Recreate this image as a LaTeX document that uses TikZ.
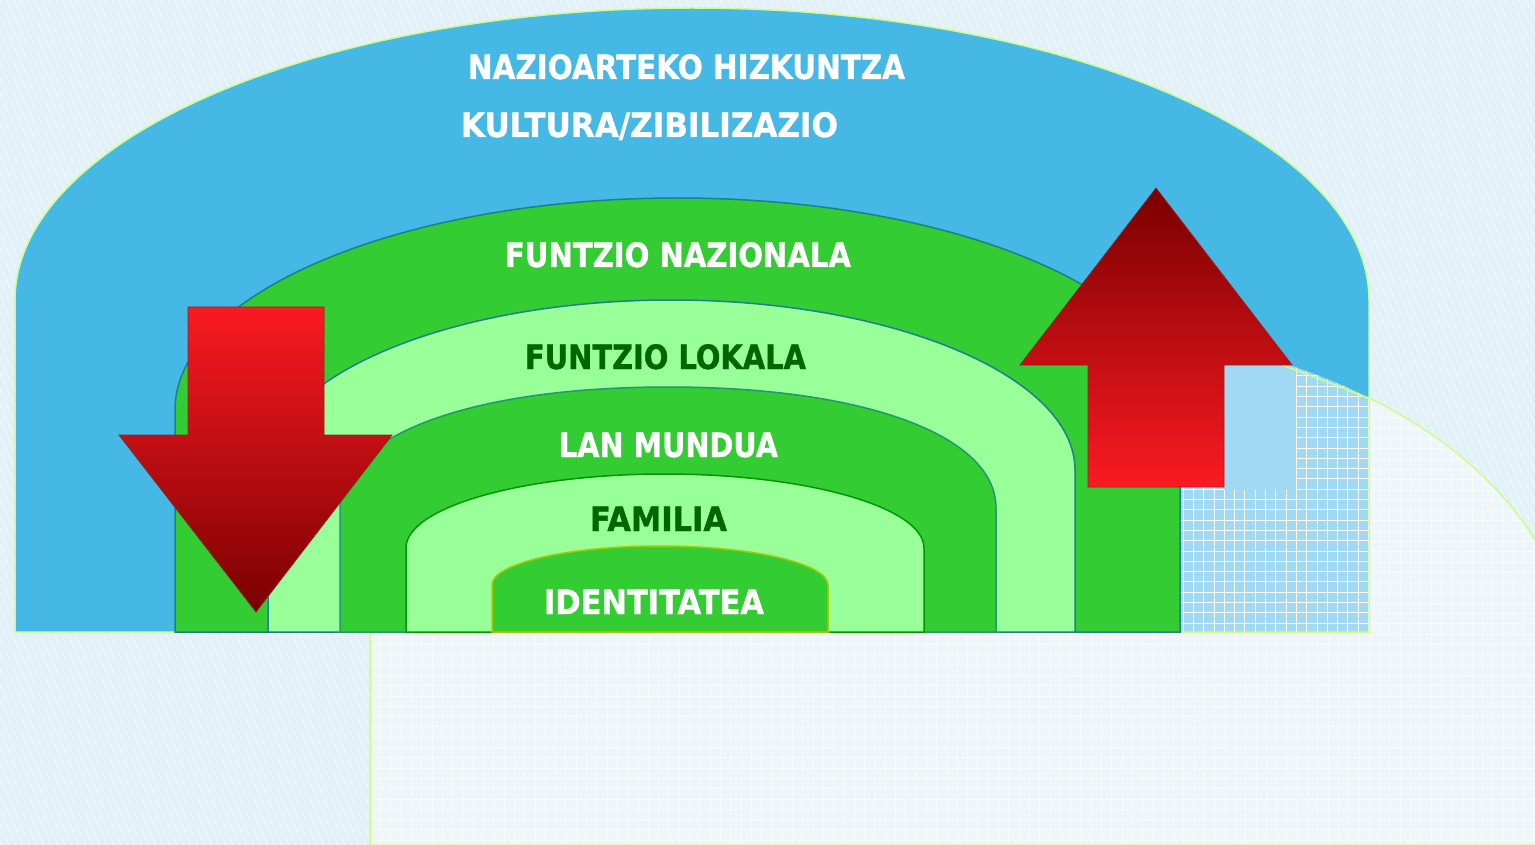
\documentclass[tikz,border=0pt]{standalone}
\usepackage{fontspec}
\setmainfont{DejaVu Sans}
\newfontfamily\lblfont{DejaVu Sans Bold}[FakeBold=1.1]
\usepackage{graphicx}
\definecolor{bgc}{HTML}{E2F1F8}
\definecolor{lightreg}{HTML}{F1F8FB}
\definecolor{archblue}{HTML}{45B8E6}
\definecolor{gridblue}{HTML}{A2D9F2}
\definecolor{dgreen}{HTML}{33CC33}
\definecolor{lgreen}{HTML}{99FF99}
\definecolor{txtgreen}{HTML}{006600}
\definecolor{edgeteal}{HTML}{1E7F8E}
\definecolor{edgelime}{HTML}{CCFF88}
\definecolor{edgeolive}{HTML}{A8C800}
\definecolor{edgegreen}{HTML}{009900}
\definecolor{redtop}{HTML}{FA1A22}
\definecolor{redmid}{HTML}{D80000}
\definecolor{reddark}{HTML}{7A0000}
% arch: L R B S T k options
\newcommand\archcmd[7]{\path[#7] (#1,#3) -- (#1,#4)
  .. controls (#1,{#4-#6*(#4-#5)}) and ({(#1+#2)/2-#6*(#2-#1)/2},#5) .. ({(#1+#2)/2},#5)
  .. controls ({(#1+#2)/2+#6*(#2-#1)/2},#5) and (#2,{#4-#6*(#4-#5)}) .. (#2,#4)
  -- (#2,#3) -- cycle;}
\newcommand\lightregion[1]{\path[#1] (370,845) -- (370,328) -- (1050,328)
  arc[start angle=-90, end angle=0, x radius=520, y radius=332] -- (1570,845) -- cycle;}
\tikzset{
  stripe/.style={white, opacity=0.35, line width=1.2pt},
  lbl/.style={anchor=base, inner sep=0pt, font=\fontsize{33.5}{38}\lblfont},
  redarrow/.style={draw=reddark!85, line width=0.8pt}
}
\begin{document}
\begin{tikzpicture}[x=1pt,y=-1pt]
\useasboundingbox (0,0) rectangle (1535,845);
\clip (0,0) rectangle (1535,845);
% background
\fill[bgc] (0,0) rectangle (1535,845);
\foreach \i in {-420,-413,...,1535}{\draw[stripe] (\i,0) -- ++(380,845);}
% light region
\lightregion{fill=lightreg, fill opacity=0.8}
\begin{scope}
  \lightregion{clip}
  \foreach \gx in {370,380.3,...,1540}{\draw[white, opacity=0.6, line width=0.6pt] (\gx,300) -- (\gx,850);}
  \foreach \gy in {325,335.3,...,850}{\draw[white, opacity=0.6, line width=0.6pt] (360,\gy) -- (1540,\gy);}
\end{scope}
\lightregion{draw=edgelime, line width=1.5pt}
% blue arch
\archcmd{15}{1369}{632}{300}{8}{0.55}{fill=archblue}
\begin{scope}
  \lightregion{clip}
  \archcmd{15}{1369}{632}{300}{8}{0.55}{clip}
  \fill[gridblue] (1100,300) rectangle (1400,640);
  \foreach \gx in {1183,1193.3,...,1370}{\draw[white, line width=0.8pt] (\gx,300) -- (\gx,640);}
  \foreach \gy in {314,324.3,...,640}{\draw[white, line width=0.8pt] (1100,\gy) -- (1400,\gy);}
  \fill[gridblue] (1224,360) rectangle (1296,490);
\end{scope}
\begin{scope}
  \archcmd{15}{1369}{632}{300}{8}{0.55}{clip}
  \path[draw=edgelime, line width=1.5pt] (1250,352) -- (1290,368)
    .. controls (1320,379) and (1345,389) .. (1370,399);
\end{scope}
\archcmd{15}{1369}{632}{300}{8}{0.55}{draw=edgelime, line width=1.5pt}
% green arches
\archcmd{175}{1180}{632}{410}{198}{0.55}{fill=dgreen, draw=edgeteal, line width=1.5pt}
\archcmd{268}{1075}{632}{470}{300}{0.55}{fill=lgreen, draw=edgeteal, line width=1.5pt}
\archcmd{340}{996}{632}{508}{387}{0.6}{fill=dgreen, draw=edgeteal!70!dgreen, line width=1.5pt}
\archcmd{406}{924}{632}{548}{474}{0.55}{fill=lgreen, draw=edgegreen, line width=1.5pt}
\archcmd{492}{828}{632}{585}{546}{0.55}{fill=dgreen, draw=edgeolive, line width=1.5pt}
% arrows
\path[redarrow, top color=redtop, middle color=redmid, bottom color=reddark]
  (188,307) -- (324,307) -- (324,435) -- (392,435) -- (256,612) -- (119,435) -- (188,435) -- cycle;
\path[redarrow, top color=reddark, middle color=redmid, bottom color=redtop]
  (1156,188) -- (1292,365) -- (1224,365) -- (1224,487) -- (1088,487) -- (1088,365) -- (1020,365) -- cycle;
% labels
\node[lbl, text=white] (t1) at (686.5,79) {\resizebox{437pt}{\height}{NAZIOARTEKO HIZKUNTZA}};
\node[lbl, text=white] (t2) at (649.5,137) {\resizebox{377pt}{\height}{KULTURA/ZIBILIZAZIO}};
\node[lbl, text=white] (t3) at (678,267) {\resizebox{346pt}{\height}{FUNTZIO NAZIONALA}};
\node[lbl, text=txtgreen] (t4) at (665.5,369) {\resizebox{281pt}{\height}{FUNTZIO LOKALA}};
\node[lbl, text=white] (t5) at (668.5,457) {\resizebox{219pt}{\height}{LAN MUNDUA}};
\node[lbl, text=txtgreen] (t6) at (658.5,531) {\resizebox{137pt}{\height}{FAMILIA}};
\node[lbl, text=white] (t7) at (654,614) {\resizebox{220pt}{\height}{IDENTITATEA}};
\end{tikzpicture}
\end{document}
